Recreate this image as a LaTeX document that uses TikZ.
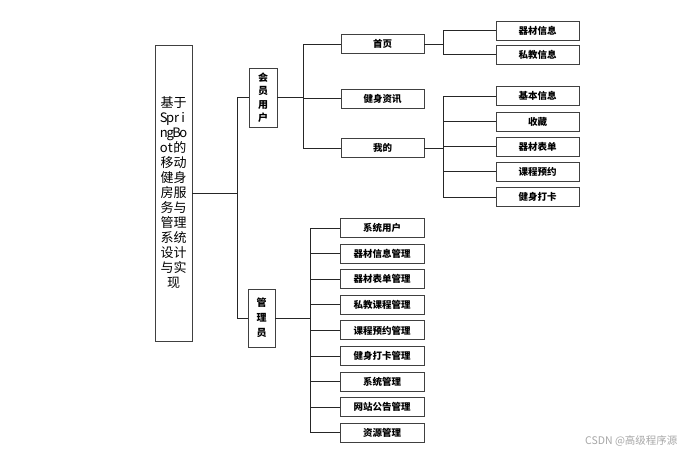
\documentclass[tikz,border=0pt]{standalone}
\usepackage{fontspec}
\newfontfamily\cjk{Noto Sans CJK SC}
\newcommand\ltr[1]{\makebox[6.5pt]{#1}}
\begin{document}
\begin{tikzpicture}[x=1pt,y=-1pt,
        every node/.style={font=\cjk},
        box/.style={draw=black!75,line width=0.9pt,fill=white,minimum width=83pt,minimum height=19pt,inner sep=0pt,font=\cjk\bfseries\fontsize{9.5}{10}\selectfont},
        tall/.style={draw=black!75,line width=0.9pt,fill=white,inner sep=0pt,align=center,font=\cjk\bfseries\fontsize{10}{13.5}\selectfont},
        link/.style={draw=black!85,line width=0.7pt}]
    \useasboundingbox (0,0) rectangle (688,456);
    % root and the two user groups
    \node [draw=black!75,line width=0.9pt,minimum width=37pt,minimum height=296pt,inner sep=0pt,align=center,
           font=\cjk\fontsize{13}{15}\selectfont] (root) at (173.5,193)
        {基于\\\ltr{S}\ltr{p}\ltr{r}\ltr{i}\\\ltr{n}\ltr{g}\ltr{B}\ltr{o}\\\ltr{o}\ltr{t}的\\移动\\健身\\房服\\务与\\管理\\系统\\设计\\与实\\现};
    \node [tall,minimum width=28pt,minimum height=59pt] (member) at (263,97.5) {会\\员\\用\\户};
    \node [tall,minimum width=27pt,minimum height=58pt,font=\cjk\bfseries\fontsize{10}{15}\selectfont] (admin) at (261.5,318) {管\\理\\员};
    \coordinate (jA) at (237,0);
    \coordinate (jM) at (303,0);
    \coordinate (jH) at (443,0);
    \coordinate (jG) at (310,0);
    \draw [link] (root.east) -- (root.east -| jA);
    \draw [link] (member.west) -- (member.west -| jA) |- (admin.west);
    % member pages
    \node [box] (home) at (382.5,44) {首页};
    \node [box] (news) at (382.5,98.5) {健身资讯};
    \node [box] (mine) at (382.5,148) {我的};
    \draw [link] (member.east) -- (member.east -| jM);
    \draw [link] (home.west) -| (jM |- mine.west) -- (mine.west);
    \draw [link] (news.west) -- (news.west -| jM);
    % under home
    \node [box] (home1) at (537.5,30.5) {器材信息};
    \node [box] (home2) at (537.5,54.5) {私教信息};
    \draw [link] (home.east) -- (home.east -| jH);
    \draw [link] (home1.west) -| (jH |- home2.west) -- (home2.west);
    % under mine
    \foreach \t/\y [count=\i] in {基本信息/96,收藏/121.5,器材表单/146.5,课程预约/171.5,健身打卡/197}
        \node [box] (mine\i) at (537.5,\y) {\t};
    \foreach \i in {2,3,4}
        \draw [link] (mine\i.west) -- (mine\i.west -| jH);
    \draw [link] (mine.east) -- (mine.east -| jH);
    \draw [link] (mine1.west) -| (jH |- mine5.west) -- (mine5.west);
    % admin pages
    \foreach \t [count=\i] in {系统用户,器材信息管理,器材表单管理,私教课程管理,课程预约管理,健身打卡管理,系统管理,网站公告管理,资源管理}
        \node [box,minimum width=84pt] (adm\i) at (382,202.4+25.6*\i) {\t};
    \foreach \i in {2,...,8}
        \draw [link] (adm\i.west) -- (adm\i.west -| jG);
    \draw [link] (admin.east) -- (admin.east -| jG);
    \draw [link] (adm1.west) -| (jG |- adm9.west) -- (adm9.west);
    % watermark
    \node [text=black!35,font=\cjk\fontsize{10.5}{12}\selectfont,anchor=east] (mark) at (681,441) {CSDN @高级程序源};
\end{tikzpicture}
\end{document}
